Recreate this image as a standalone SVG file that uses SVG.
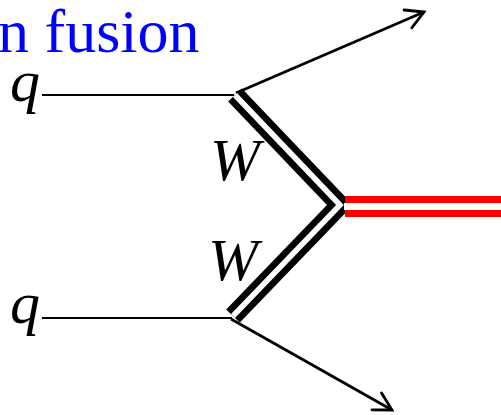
<svg xmlns="http://www.w3.org/2000/svg" width="501" height="415" viewBox="0 0 501 415">
<style>
.lbl{font-family:"Liberation Serif","Times New Roman",serif;font-style:italic;font-size:60px;fill:#000}
.title{font-family:"Liberation Serif","Times New Roman",serif;font-size:62px;fill:#0000ff}
.thin{stroke:#000;stroke-width:2;fill:none}
.arr{stroke:#000;stroke-width:2.8;fill:none;marker-end:url(#ah)}
.wout{stroke:#000;stroke-width:19;fill:none;stroke-linejoin:miter;stroke-miterlimit:10}
.win{stroke:#fff;stroke-width:5.5;fill:none;stroke-linejoin:miter;stroke-miterlimit:10}
</style>
<defs>
<marker id="ah" markerUnits="userSpaceOnUse" orient="auto" markerWidth="30" markerHeight="30" refX="0" refY="0" viewBox="-25 -15 30 30" overflow="visible">
<path d="M-17.5,-9.7 L0,0 L-17.5,9.7" fill="none" stroke="#000" stroke-width="2.8" stroke-linecap="round" stroke-linejoin="miter"/>
</marker>
</defs>
<rect width="501" height="415" fill="#fff"/>
<g id="title"><text class="title" x="-2" y="52">n fusion</text></g>
<g id="q-top"><text class="lbl" x="10" y="101">q</text></g>
<g id="q-bottom"><text class="lbl" x="10" y="323">q</text></g>
<g id="W-top"><text class="lbl" x="210" y="180">W</text></g>
<g id="W-bottom"><text class="lbl" x="208" y="280">W</text></g>
<g id="connectors">
<line class="thin" x1="42" y1="95" x2="234" y2="95"/>
<line class="thin" x1="42" y1="318" x2="232" y2="318"/>
<line class="arr" x1="236" y1="93" x2="424" y2="12"/>
<line class="arr" x1="231" y1="319" x2="392" y2="410"/>
<polyline class="wout" points="235,95 340,205 233,316"/>
<polyline class="win" points="235,95 340,205 233,316"/>
<line x1="345" y1="206.5" x2="501" y2="206.5" stroke="#ff0000" stroke-width="21"/>
<line x1="344" y1="206.5" x2="501" y2="206.5" stroke="#fff" stroke-width="7"/>
</g>
</svg>
